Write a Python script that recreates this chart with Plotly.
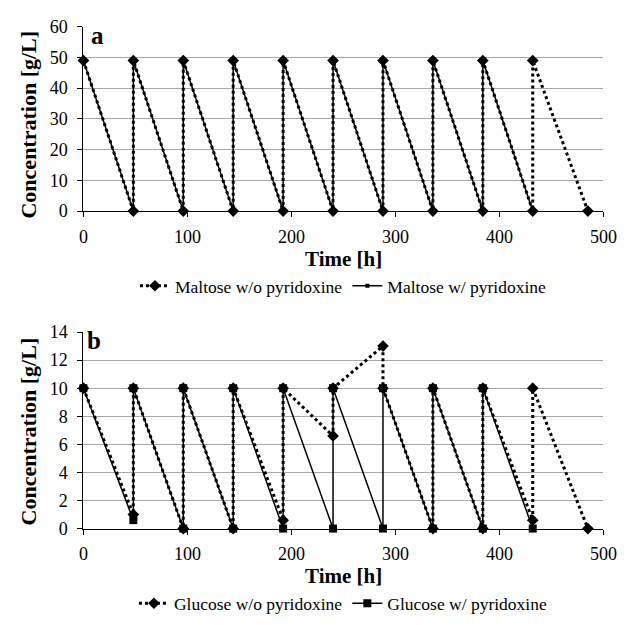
import plotly.graph_objects as go

# ---------------- data ----------------
t_wo = [0, 48, 48, 96, 96, 144, 144, 192, 192, 240, 240, 288, 288, 336, 336, 384, 384, 432, 432, 485]
t_w = [0, 48, 48, 96, 96, 144, 144, 192, 192, 240, 240, 288, 288, 336, 336, 384, 384, 432]

maltose_wo = [49, 0, 49, 0, 49, 0, 49, 0, 49, 0, 49, 0, 49, 0, 49, 0, 49, 0, 49, 0]
maltose_w = [49, 0, 49, 0, 49, 0, 49, 0, 49, 0, 49, 0, 49, 0, 49, 0, 49, 0]

glucose_wo = [10, 1.0, 10, 0, 10, 0, 10, 0.6, 10, 6.6, 10, 13, 10, 0, 10, 0, 10, 0.6, 10, 0]
glucose_w = [10, 0.6, 10, 0, 10, 0, 10, 0, 10, 0, 10, 0, 10, 0, 10, 0, 10, 0]

x_ticks = [0, 100, 200, 300, 400, 500]
ya_ticks = [0, 10, 20, 30, 40, 50, 60]
yb_ticks = [0, 2, 4, 6, 8, 10, 12, 14]

W, H = 644, 625
FONT = "Liberation Serif, Times New Roman, serif"


def px(x):
    return x / W


def py(y):
    return 1 - y / H


fig = go.Figure()

# Panel a
fig.add_trace(go.Scatter(
    x=t_wo, y=maltose_wo, name="Maltose w/o pyridoxine", mode="lines+markers",
    line=dict(color="black", width=3, dash="dot"),
    marker=dict(symbol="diamond", size=9, color="black"),
    xaxis="x", yaxis="y", legend="legend", cliponaxis=False))
fig.add_trace(go.Scatter(
    x=t_w, y=maltose_w, name="Maltose w/ pyridoxine", mode="lines+markers",
    line=dict(color="black", width=1.5),
    marker=dict(symbol="square", size=4, color="black"),
    xaxis="x", yaxis="y", legend="legend", cliponaxis=False))

# Panel b
fig.add_trace(go.Scatter(
    x=t_wo, y=glucose_wo, name="Glucose w/o pyridoxine", mode="lines+markers",
    line=dict(color="black", width=3, dash="dot"),
    marker=dict(symbol="diamond", size=9, color="black"),
    xaxis="x2", yaxis="y2", legend="legend2", cliponaxis=False))
fig.add_trace(go.Scatter(
    x=t_w, y=glucose_w, name="Glucose w/ pyridoxine", mode="lines+markers",
    line=dict(color="black", width=1.5),
    marker=dict(symbol="square", size=8, color="black"),
    xaxis="x2", yaxis="y2", legend="legend2", cliponaxis=False))

xdom = [px(81.7), px(616.7)]
ydom_a = [py(207.7), py(17.3)]
ydom_b = [py(535.7), py(332.7)]

xcommon = dict(range=[0, 500], tickvals=x_ticks, showline=True, linecolor="black", linewidth=1,
               ticks="outside", ticklen=5, tickcolor="black", showgrid=False, zeroline=False,
               tickfont=dict(family=FONT, size=18, color="black"), domain=xdom,
               ticklabelstandoff=4)
ycommon = dict(showline=True, linecolor="black", linewidth=1, ticks="outside", ticklen=5,
               tickcolor="black", showgrid=True, gridcolor="#a8a8a8", gridwidth=1, zeroline=False,
               tickfont=dict(family=FONT, size=18, color="black"), ticklabelstandoff=6)

fig.update_layout(
    width=W, height=H,
    margin=dict(l=0, r=0, t=0, b=0),
    paper_bgcolor="white", plot_bgcolor="white",
    font=dict(family=FONT, color="black"),
    xaxis=dict(**xcommon, anchor="y"),
    yaxis=dict(**ycommon, range=[0, 60], tickvals=ya_ticks, domain=ydom_a, anchor="x"),
    xaxis2=dict(**xcommon, anchor="y2"),
    yaxis2=dict(**ycommon, range=[0, 14], tickvals=yb_ticks, domain=ydom_b, anchor="x2"),
    legend=dict(orientation="h", x=px(349.2), xanchor="center", y=py(285), yanchor="middle",
                font=dict(family=FONT, size=17.5, color="black"), bgcolor="rgba(0,0,0,0)"),
    legend2=dict(orientation="h", x=px(349.2), xanchor="center", y=py(613), yanchor="middle",
                 font=dict(family=FONT, size=17.5, color="black"), bgcolor="rgba(0,0,0,0)"),
    showlegend=True,
)

ann = []
for yc in (257, 585):
    ann.append(dict(text="<b>Time [h]</b>", x=px(349.2), y=py(yc), xref="paper", yref="paper",
                    xanchor="center", yanchor="middle", showarrow=False,
                    font=dict(family=FONT, size=21, color="black")))
for yc in (118, 435):
    ann.append(dict(text="<b>Concentration [g/L]</b>", x=px(25), y=py(yc), xref="paper", yref="paper",
                    xanchor="center", yanchor="middle", showarrow=False, textangle=-90,
                    font=dict(family=FONT, size=22, color="black")))
ann.append(dict(text="<b>a</b>", x=px(87), y=py(10), xref="paper", yref="paper",
                xanchor="left", yanchor="top", showarrow=False,
                font=dict(family=FONT, size=25, color="black")))
ann.append(dict(text="<b>b</b>", x=px(83), y=py(325), xref="paper", yref="paper",
                xanchor="left", yanchor="top", showarrow=False,
                font=dict(family=FONT, size=25, color="black")))
fig.update_layout(annotations=ann)

fig.write_html("out.html")
